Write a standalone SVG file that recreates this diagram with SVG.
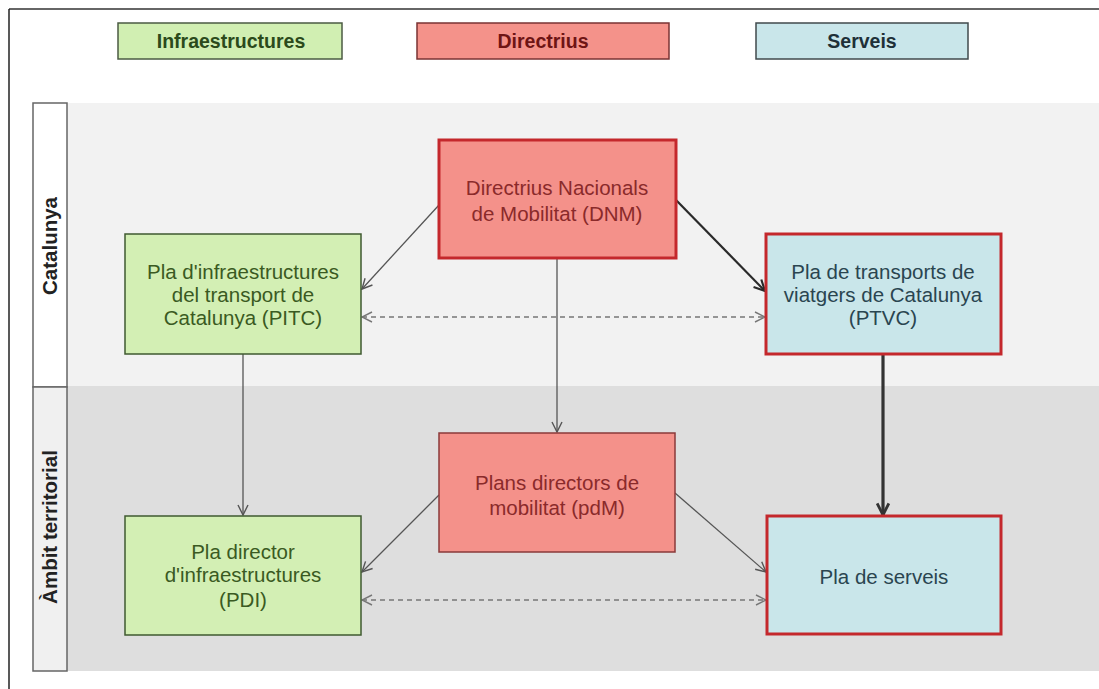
<svg xmlns="http://www.w3.org/2000/svg" width="1099" height="689" viewBox="0 0 1099 689">
<defs>
<style>
.lg{font-family:"Liberation Sans",Arial,sans-serif;font-weight:bold;font-size:19.5px;text-anchor:middle}
.t{font-family:"Liberation Sans",Arial,sans-serif;font-size:20.5px;text-anchor:middle}
.hd{font-family:"Liberation Sans",Arial,sans-serif;font-weight:bold;font-size:20.5px;text-anchor:middle;fill:#222}
.c{fill:none;stroke:#555;stroke-width:1.3}
.thick{fill:none;stroke:#2a2a2a;stroke-width:2.2}
.thick3{fill:none;stroke:#333;stroke-width:3.2}
.dash{fill:none;stroke:#777;stroke-width:1.3;stroke-dasharray:5 4}
</style>
<marker id="a" viewBox="0 0 12 12" refX="11" refY="6" markerWidth="12" markerHeight="12" markerUnits="userSpaceOnUse" orient="auto-start-reverse">
<path d="M1,1 L11,6 L1,11" fill="none" stroke="#555" stroke-width="1.4"/>
</marker>
<marker id="ad" viewBox="0 0 12 12" refX="11" refY="6" markerWidth="12" markerHeight="12" markerUnits="userSpaceOnUse" orient="auto-start-reverse">
<path d="M1,1 L11,6 L1,11" fill="none" stroke="#777" stroke-width="1.4"/>
</marker>
<marker id="ak" viewBox="0 0 12 12" refX="11" refY="6" markerWidth="13" markerHeight="13" markerUnits="userSpaceOnUse" orient="auto">
<path d="M1,1 L11,6 L1,11" fill="none" stroke="#2a2a2a" stroke-width="2"/>
</marker>
<marker id="ak3" viewBox="0 0 12 12" refX="11" refY="6" markerWidth="14" markerHeight="14" markerUnits="userSpaceOnUse" orient="auto">
<path d="M1,1 L11,6 L1,11" fill="none" stroke="#333" stroke-width="2.4"/>
</marker>
</defs>
<rect width="1099" height="689" fill="#ffffff"/>
<line x1="9" y1="9" x2="1099" y2="9" stroke="#333" stroke-width="1.5"/>
<line x1="9" y1="9" x2="9" y2="689" stroke="#222" stroke-width="1.5"/>

<g id="legend">
<rect x="118" y="23" width="224" height="36" fill="#d1efb2" stroke="#4b5b43" stroke-width="1.5"/>
<text class="lg" x="231" y="48" fill="#2b4a1b">Infraestructures</text>
<rect x="417" y="23" width="252" height="36" fill="#f4928a" stroke="#7a3333" stroke-width="1.5"/>
<text class="lg" x="543" y="48" fill="#6e1414">Directrius</text>
<rect x="756" y="23" width="212" height="36" fill="#c9e6ea" stroke="#404a4c" stroke-width="1.5"/>
<text class="lg" x="862" y="48" fill="#1e3038">Serveis</text>
</g>

<g id="lanes">
<rect x="67" y="103" width="1032" height="283" fill="#f2f2f2"/>
<rect x="67" y="386" width="1032" height="285" fill="#dedede"/>
<rect x="33" y="103" width="34" height="284" fill="#ffffff" stroke="#666" stroke-width="1.5"/>
<rect x="33" y="387" width="34" height="284" fill="#f0f0f0" stroke="#666" stroke-width="1.5"/>
<text class="hd" transform="translate(57,246) rotate(-90)">Catalunya</text>
<text class="hd" transform="translate(57,527) rotate(-90)">Àmbit territorial</text>
</g>

<g id="connectors">
<line class="c" x1="439" y1="205" x2="362" y2="289" marker-end="url(#a)"/>
<line class="thick" x1="676" y1="200" x2="765" y2="291" marker-end="url(#ak)"/>
<line class="c" x1="557" y1="258" x2="557" y2="432" marker-end="url(#a)"/>
<line class="dash" x1="362" y1="317" x2="765" y2="317" marker-start="url(#ad)" marker-end="url(#ad)"/>
<line class="c" x1="243" y1="354" x2="243" y2="515" marker-end="url(#a)"/>
<line class="thick3" x1="883" y1="354" x2="883" y2="515" marker-end="url(#ak3)"/>
<line class="c" x1="439" y1="495" x2="362" y2="572" marker-end="url(#a)"/>
<line class="c" x1="675" y1="493" x2="766" y2="572" marker-end="url(#a)"/>
<line class="dash" x1="362" y1="600" x2="766" y2="600" marker-start="url(#ad)" marker-end="url(#ad)"/>
</g>

<g id="dnm">
<rect x="439" y="140" width="237" height="118" fill="#f4918a" stroke="#c4282c" stroke-width="3"/>
<text class="t" x="557" y="195" fill="#8a2a2a">Directrius Nacionals</text>
<text class="t" x="557" y="221" fill="#8a2a2a">de Mobilitat (DNM)</text>
</g>

<g id="pitc">
<rect x="125" y="234" width="236" height="120" fill="#d3efb4" stroke="#3f5a30" stroke-width="1.5"/>
<text class="t" x="243" y="279" fill="#3a5a22">Pla d'infraestructures</text>
<text class="t" x="243" y="302" fill="#3a5a22">del transport de</text>
<text class="t" x="243" y="325" fill="#3a5a22">Catalunya (PITC)</text>
</g>

<g id="ptvc">
<rect x="766" y="234" width="235" height="120" fill="#c9e6ea" stroke="#c4282c" stroke-width="3"/>
<text class="t" x="883" y="279" fill="#2a4550">Pla de transports de</text>
<text class="t" x="883" y="302" fill="#2a4550">viatgers de Catalunya</text>
<text class="t" x="883" y="325" fill="#2a4550">(PTVC)</text>
</g>

<g id="pdm">
<rect x="439" y="433" width="236" height="119" fill="#f4918a" stroke="#8a3a3a" stroke-width="1.5"/>
<text class="t" x="557" y="490" fill="#8a2a2a">Plans directors de</text>
<text class="t" x="557" y="515" fill="#8a2a2a">mobilitat (pdM)</text>
</g>

<g id="pdi">
<rect x="125" y="516" width="236" height="119" fill="#d3efb4" stroke="#3f5a30" stroke-width="1.5"/>
<text class="t" x="243" y="559" fill="#3a5a22">Pla director</text>
<text class="t" x="243" y="582" fill="#3a5a22">d'infraestructures</text>
<text class="t" x="243" y="607" fill="#3a5a22">(PDI)</text>
</g>

<g id="serveis">
<rect x="767" y="516" width="234" height="118" fill="#c9e6ea" stroke="#c4282c" stroke-width="3"/>
<text class="t" x="884" y="584" fill="#2a4550">Pla de serveis</text>
</g>
</svg>
